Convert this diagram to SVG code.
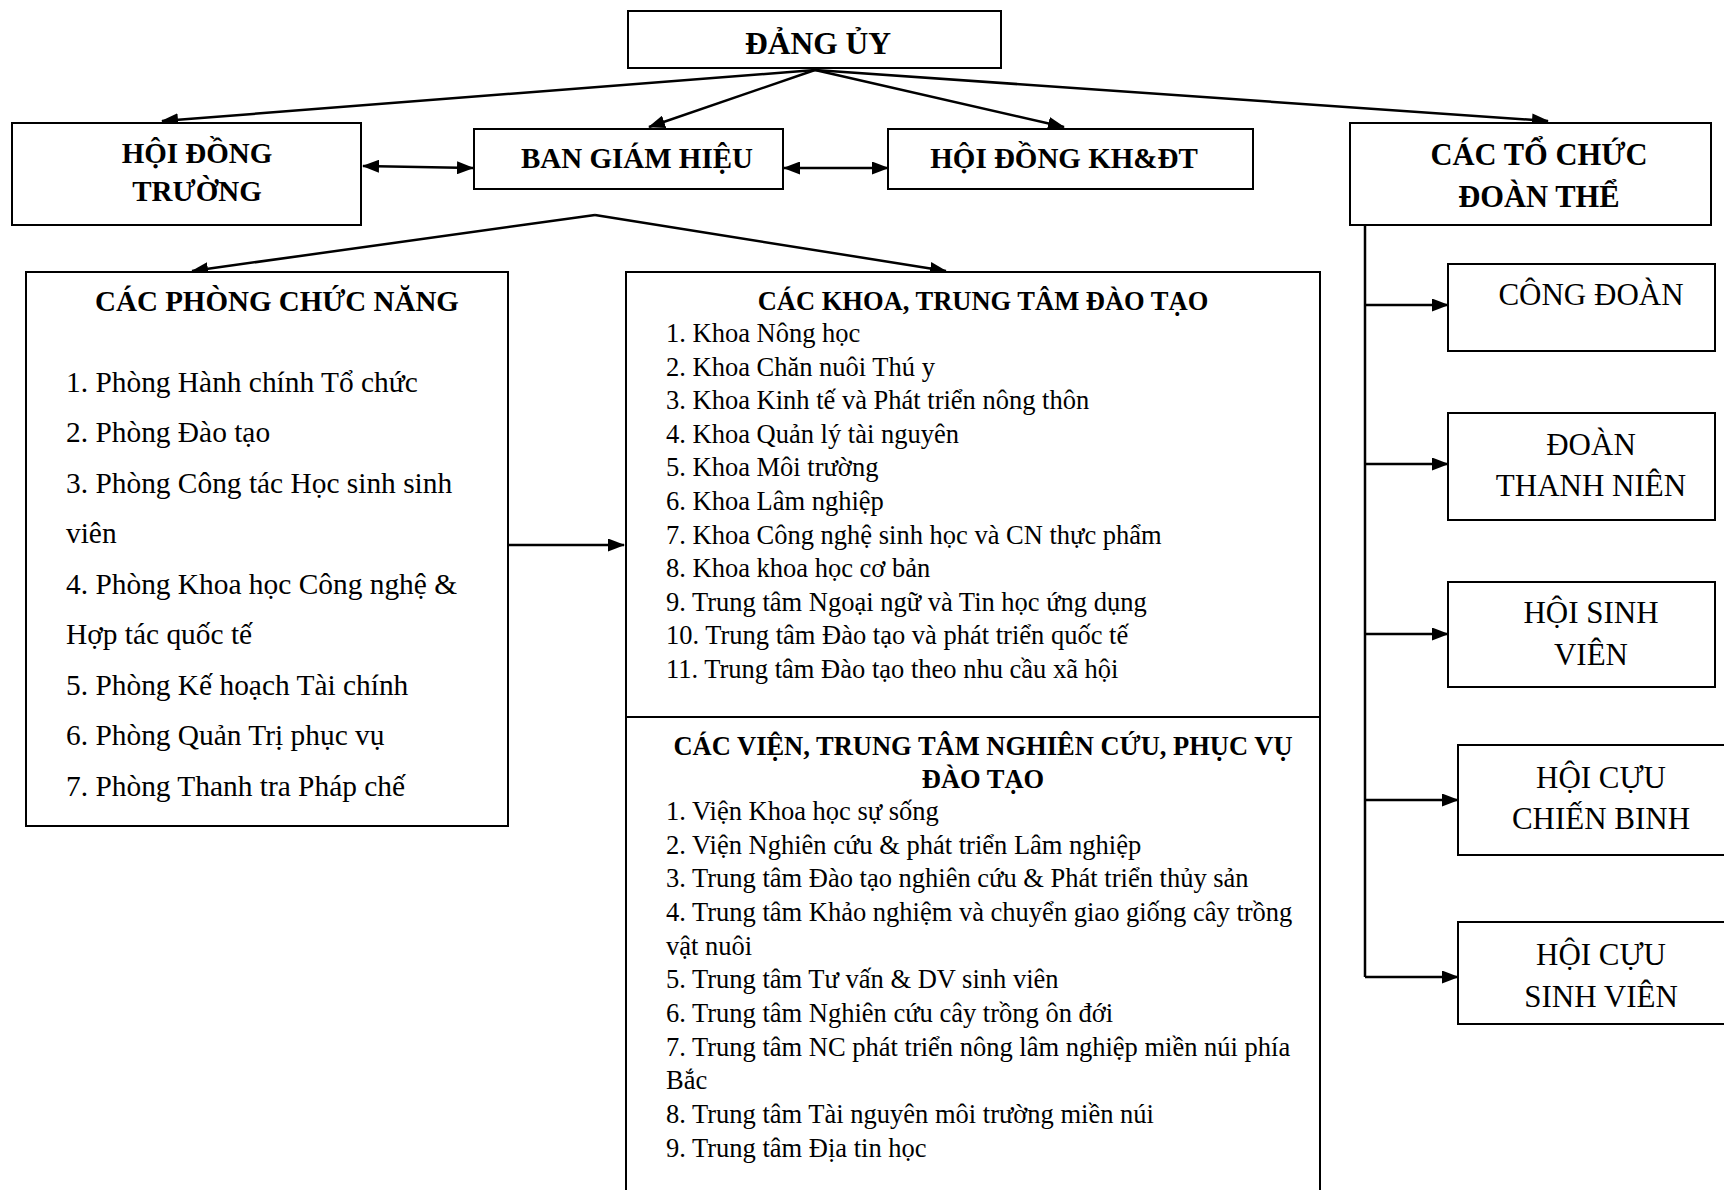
<svg xmlns="http://www.w3.org/2000/svg" width="1724" height="1190" viewBox="0 0 1724 1190">
<style>
.box{fill:#fff;stroke:#000;stroke-width:2}
.ln{fill:none;stroke:#000;stroke-width:2.5}
text{font-family:"Liberation Serif","Times New Roman",serif;fill:#000}
.b{font-weight:bold;font-size:29px;text-anchor:middle}
.t{font-size:26.5px;font-weight:bold;text-anchor:middle}
.p{font-size:29.4px}
.k{font-size:26.5px}
.r{font-size:31px;text-anchor:middle}
</style>
<defs>
<marker id="ah" viewBox="0 0 17 13" refX="16" refY="6.5" markerWidth="17" markerHeight="13" markerUnits="userSpaceOnUse" orient="auto-start-reverse">
<path d="M0,0 L17,6.5 L0,13 Z" fill="#000"/>
</marker>
</defs>
<rect width="1724" height="1190" fill="#fff"/>

<g id="connectors">
<line class="ln" x1="815" y1="70" x2="162" y2="121" marker-end="url(#ah)"/>
<line class="ln" x1="815" y1="70" x2="649" y2="127" marker-end="url(#ah)"/>
<line class="ln" x1="815" y1="70" x2="1064" y2="127" marker-end="url(#ah)"/>
<line class="ln" x1="815" y1="70" x2="1548" y2="121" marker-end="url(#ah)"/>
<line class="ln" x1="363" y1="166" x2="473" y2="168" marker-start="url(#ah)" marker-end="url(#ah)"/>
<line class="ln" x1="784" y1="168" x2="888" y2="168" marker-start="url(#ah)" marker-end="url(#ah)"/>
<line class="ln" x1="595" y1="215" x2="192" y2="271" marker-end="url(#ah)"/>
<line class="ln" x1="595" y1="215" x2="946" y2="271" marker-end="url(#ah)"/>
<line class="ln" x1="503" y1="545" x2="624" y2="545" marker-end="url(#ah)"/>
<polyline class="ln" points="1365,225 1365,977"/>
<line class="ln" x1="1365" y1="305" x2="1448" y2="305" marker-end="url(#ah)"/>
<line class="ln" x1="1365" y1="464" x2="1448" y2="464" marker-end="url(#ah)"/>
<line class="ln" x1="1365" y1="634" x2="1448" y2="634" marker-end="url(#ah)"/>
<line class="ln" x1="1365" y1="800" x2="1458" y2="800" marker-end="url(#ah)"/>
<line class="ln" x1="1365" y1="977" x2="1458" y2="977" marker-end="url(#ah)"/>
</g>

<g id="dang-uy">
<rect class="box" x="628" y="11" width="373" height="57"/>
<text class="b" x="818" y="54" style="font-size:31.5px">ĐẢNG ỦY</text>
</g>

<g id="hoi-dong-truong">
<rect class="box" x="12" y="123" width="349" height="102"/>
<text class="b" x="197" y="163">HỘI ĐỒNG</text>
<text class="b" x="197" y="201">TRƯỜNG</text>
</g>

<g id="ban-giam-hieu">
<rect class="box" x="474" y="129" width="309" height="60"/>
<text class="b" x="637" y="168">BAN GIÁM HIỆU</text>
</g>

<g id="hoi-dong-khdt">
<rect class="box" x="888" y="129" width="365" height="60"/>
<text class="b" x="1064" y="168">HỘI ĐỒNG KH&amp;ĐT</text>
</g>

<g id="cac-to-chuc">
<rect class="box" x="1350" y="123" width="361" height="102"/>
<text class="b" x="1539" y="165" style="font-size:30.5px">CÁC TỔ CHỨC</text>
<text class="b" x="1539" y="207" style="font-size:30.5px">ĐOÀN THỂ</text>
</g>

<g id="cac-phong">
<rect class="box" x="26" y="272" width="482" height="554"/>
<text class="b" x="277" y="311">CÁC PHÒNG CHỨC NĂNG</text>
<text class="p" x="66" y="392">1. Phòng Hành chính Tổ chức</text>
<text class="p" x="66" y="442">2. Phòng Đào tạo</text>
<text class="p" x="66" y="493">3. Phòng Công tác Học sinh sinh</text>
<text class="p" x="66" y="543">viên</text>
<text class="p" x="66" y="594">4. Phòng Khoa học Công nghệ &amp;</text>
<text class="p" x="66" y="644">Hợp tác quốc tế</text>
<text class="p" x="66" y="695">5. Phòng Kế hoạch Tài chính</text>
<text class="p" x="66" y="745">6. Phòng Quản Trị phục vụ</text>
<text class="p" x="66" y="796">7. Phòng Thanh tra Pháp chế</text>
</g>

<g id="cac-khoa">
<rect class="box" x="626" y="272" width="694" height="922"/>
<line class="box" x1="626" y1="717" x2="1320" y2="717"/>
<text class="t" x="983" y="310">CÁC KHOA, TRUNG TÂM ĐÀO TẠO</text>
<text class="k" x="666" y="342">1. Khoa Nông học</text>
<text class="k" x="666" y="376">2. Khoa Chăn nuôi Thú y</text>
<text class="k" x="666" y="409">3. Khoa Kinh tế và Phát triển nông thôn</text>
<text class="k" x="666" y="443">4. Khoa Quản lý tài nguyên</text>
<text class="k" x="666" y="476">5. Khoa Môi trường</text>
<text class="k" x="666" y="510">6. Khoa Lâm nghiệp</text>
<text class="k" x="666" y="544">7. Khoa Công nghệ sinh học và CN thực phẩm</text>
<text class="k" x="666" y="577">8. Khoa khoa học cơ bản</text>
<text class="k" x="666" y="611">9. Trung tâm Ngoại ngữ và Tin học ứng dụng</text>
<text class="k" x="666" y="644">10. Trung tâm Đào tạo và phát triển quốc tế</text>
<text class="k" x="666" y="678">11. Trung tâm Đào tạo theo nhu cầu xã hội</text>
<text class="t" x="983" y="755">CÁC VIỆN, TRUNG TÂM NGHIÊN CỨU, PHỤC VỤ</text>
<text class="t" x="983" y="788">ĐÀO TẠO</text>
<text class="k" x="666" y="820">1. Viện Khoa học sự sống</text>
<text class="k" x="666" y="854">2. Viện Nghiên cứu &amp; phát triển Lâm nghiệp</text>
<text class="k" x="666" y="887">3. Trung tâm Đào tạo nghiên cứu &amp; Phát triển thủy sản</text>
<text class="k" x="666" y="921">4. Trung tâm Khảo nghiệm và chuyển giao giống cây trồng</text>
<text class="k" x="666" y="955">vật nuôi</text>
<text class="k" x="666" y="988">5. Trung tâm Tư vấn &amp; DV sinh viên</text>
<text class="k" x="666" y="1022">6. Trung tâm Nghiên cứu cây trồng ôn đới</text>
<text class="k" x="666" y="1056">7. Trung tâm NC phát triển nông lâm nghiệp miền núi phía</text>
<text class="k" x="666" y="1089">Bắc</text>
<text class="k" x="666" y="1123">8. Trung tâm Tài nguyên môi trường miền núi</text>
<text class="k" x="666" y="1157">9. Trung tâm Địa tin học</text>
</g>

<g id="cong-doan">
<rect class="box" x="1448" y="264" width="267" height="87"/>
<text class="r" x="1591" y="305">CÔNG ĐOÀN</text>
</g>

<g id="doan-thanh-nien">
<rect class="box" x="1448" y="413" width="267" height="107"/>
<text class="r" x="1591" y="455">ĐOÀN</text>
<text class="r" x="1591" y="496">THANH NIÊN</text>
</g>

<g id="hoi-sinh-vien">
<rect class="box" x="1448" y="582" width="267" height="105"/>
<text class="r" x="1591" y="623">HỘI SINH</text>
<text class="r" x="1591" y="665">VIÊN</text>
</g>

<g id="hoi-cuu-chien-binh">
<rect class="box" x="1458" y="745" width="270" height="110"/>
<text class="r" x="1601" y="788">HỘI CỰU</text>
<text class="r" x="1601" y="829">CHIẾN BINH</text>
</g>

<g id="hoi-cuu-sinh-vien">
<rect class="box" x="1458" y="922" width="270" height="102"/>
<text class="r" x="1601" y="965">HỘI CỰU</text>
<text class="r" x="1601" y="1007">SINH VIÊN</text>
</g>
</svg>
